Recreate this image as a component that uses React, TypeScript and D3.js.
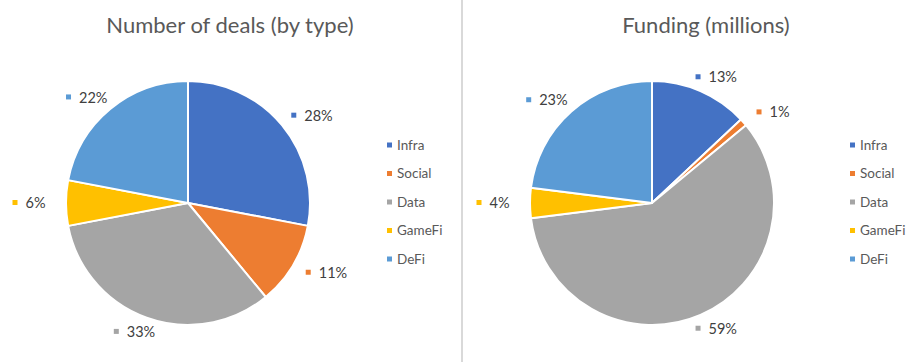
import React, { useEffect, useRef } from 'react';
import * as d3 from 'd3';

const categories = ['Infra', 'Social', 'Data', 'GameFi', 'DeFi'];
const dealsValues = [28, 11, 33, 6, 22];
const fundingValues = [13, 1, 59, 4, 23];
const titles = ['Number of deals (by type)', 'Funding (millions)'];
const palette = ['#4472C4', '#ED7D31', '#A5A5A5', '#FFC000', '#5B9BD5'];

const W = 922;
const H = 362;
const FONT = 'Lato, "Open Sans", sans-serif';

const App = () => {
  const svgRef = useRef<SVGSVGElement>(null);

  useEffect(() => {
    document.body.style.margin = '0';
    const svg = d3.select(svgRef.current);
    svg.selectAll('*').remove();
    svg.append('rect').attr('width', W).attr('height', H).attr('fill', '#fff');

    // separador entre los dos paneles
    svg.append('rect').attr('x', 461).attr('y', 0).attr('width', 2).attr('height', H).attr('fill', '#d9d9d9');

    const color = d3.scaleOrdinal<string, string>().domain(categories).range(palette);
    const radius = 122;
    const arc = d3.arc<d3.PieArcDatum<number>>().innerRadius(0).outerRadius(radius);
    const pie = d3.pie<number>().sort(null).value(d => d);

    const panels = [
      { values: dealsValues, cx: 188, titleX: 230, legendX: 387 },
      { values: fundingValues, cx: 652, titleX: 706, legendX: 850 }
    ];

    panels.forEach((p, pi) => {
      const cy = 203;
      svg.append('text')
        .attr('x', p.titleX)
        .attr('y', 33)
        .attr('text-anchor', 'middle')
        .attr('font-family', FONT)
        .attr('font-size', 22)
        .attr('fill', '#595959')
        .text(titles[pi]);

      const g = svg.append('g').attr('transform', `translate(${p.cx},${cy})`);
      const arcs = pie(p.values);

      g.selectAll('path.slice')
        .data(arcs)
        .enter()
        .append('path')
        .attr('class', 'slice')
        .attr('d', arc)
        .attr('fill', (d, i) => color(categories[i]))
        .attr('stroke', '#fff')
        .attr('stroke-width', 2)
        .attr('stroke-linejoin', 'round');

      // etiquetas de porcentaje fuera del pastel (posición elíptica, como Excel)
      const rx = 160;
      const ry = 137;
      arcs.forEach((a, i) => {
        const mid = (a.startAngle + a.endAngle) / 2;
        const lx = Math.sin(mid) * rx;
        const ly = -Math.cos(mid) * ry;
        const txt = `${a.data}%`;
        const w = 13 + txt.length * 9;
        const lg = g.append('g').attr('transform', `translate(${lx - w / 2},${ly})`);
        lg.append('rect')
          .attr('x', 0).attr('y', -3)
          .attr('width', 5).attr('height', 5)
          .attr('fill', color(categories[i]));
        lg.append('text')
          .attr('x', 13)
          .attr('y', 0)
          .attr('dy', '0.35em')
          .attr('font-family', FONT)
          .attr('font-size', 14.5)
          .attr('fill', '#404040')
          .text(txt);
      });

      // leyenda
      const legendY = d3.scalePoint<string>().domain(categories).range([145, 259]);
      categories.forEach(c => {
        const y = legendY(c) as number;
        svg.append('rect')
          .attr('x', p.legendX).attr('y', y - 2.5)
          .attr('width', 5).attr('height', 5)
          .attr('fill', color(c));
        svg.append('text')
          .attr('x', p.legendX + 10)
          .attr('y', y)
          .attr('dy', '0.35em')
          .attr('font-family', FONT)
          .attr('font-size', 13.5)
          .attr('fill', '#595959')
          .text(c);
      });
    });
  }, []);

  return (
    <div style={{ width: W, height: H, overflow: 'hidden' }}>
      <svg ref={svgRef} width={W} height={H} style={{ display: 'block' }} />
    </div>
  );
};

export default App;
